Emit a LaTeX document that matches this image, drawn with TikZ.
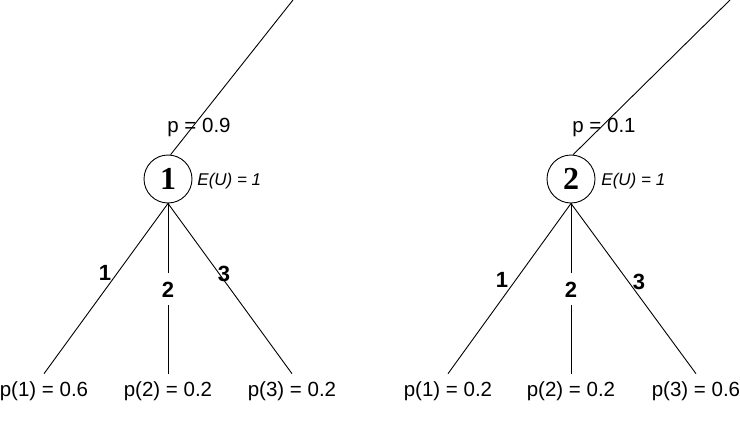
\documentclass[tikz,border=0pt]{standalone}
\usepackage{fontspec}
\setmainfont{Liberation Sans}
\newfontfamily\numfont{Liberation Serif}
\tikzset{
  chance/.style={draw, circle, minimum size=48pt, inner sep=0pt,
    font=\numfont\bfseries\fontsize{32}{32}\selectfont},
  prob/.style={anchor=base, inner sep=7pt, font=\fontsize{20.5}{21}\selectfont},
  act/.style={anchor=base, inner sep=1pt, font=\bfseries\fontsize{22}{22}\selectfont},
  midact/.style={act, inner sep=8pt},
  eu/.style={anchor=base west, inner sep=0pt, font=\itshape\fontsize{17}{18}\selectfont},
}
\begin{document}
\begin{tikzpicture}[x=1pt,y=-1pt,line width=0.9pt]
  \useasboundingbox (0,0) rectangle (740,442);
  % left tree
  \node[chance] (n1) at (168,179) {1};
  \coordinate (topL) at (293,0);
  \node[prob] (pL) at (199,132) {p = 0.9};
  \node[eu] (euL) at (197,185) {E(U) = 1};
  \node[prob] (l1) at (44,396) {p(1) = 0.6};
  \node[prob] (l2) at (168,396) {p(2) = 0.2};
  \node[prob] (l3) at (292,396) {p(3) = 0.2};
  \node[act] (a1) at (105,280) {1};
  \node[midact] (a2) at (168,297) {2};
  \node[act] (a3) at (224,281) {3};
  \draw (topL) -- (n1.84);
  \draw (n1.south) -- (l1.north);
  \draw (n1.south) -- (a2.north);
  \draw (a2.south) -- (l2.north);
  \draw (n1.south) -- (l3.north);
  % right tree
  \node[chance] (n2) at (571,179) {2};
  \coordinate (topR) at (730,0);
  \node[prob] (pR) at (604,132) {p = 0.1};
  \node[eu] (euR) at (601,185) {E(U) = 1};
  \node[prob] (r1) at (448,396) {p(1) = 0.2};
  \node[prob] (r2) at (571,396) {p(2) = 0.2};
  \node[prob] (r3) at (696,396) {p(3) = 0.6};
  \node[act] (b1) at (502,287) {1};
  \node[midact] (b2) at (571,297) {2};
  \node[act] (b3) at (639,289) {3};
  \draw (topR) -- (n2.85);
  \draw (n2.south) -- (r1.north);
  \draw (n2.south) -- (b2.north);
  \draw (b2.south) -- (r2.north);
  \draw (n2.south) -- (r3.north);
\end{tikzpicture}
\end{document}
